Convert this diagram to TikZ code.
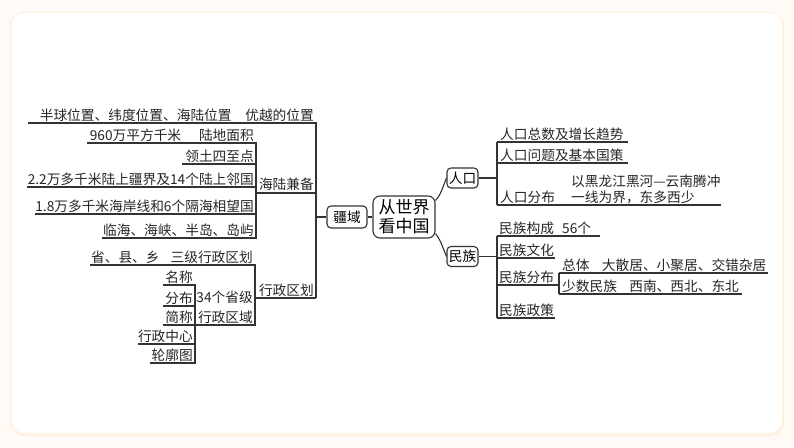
\documentclass[tikz,border=0pt]{standalone}
\usepackage{fontspec}
\setmainfont{Noto Sans CJK SC}
\begin{document}
\begin{tikzpicture}[x=1pt,y=-1pt,
  ln/.style={line width=1.1pt,draw=black!80},
  t/.style={anchor=base east,inner sep=0pt,font=\fontsize{13.7}{15}\selectfont,text=black!85},
  tl/.style={anchor=base west,inner sep=0pt,font=\fontsize{13.7}{15}\selectfont,text=black!85},
  bx/.style={draw=black!80,line width=1.1pt,rounded corners=4pt,fill=white,inner sep=1pt,font=\fontsize{13.7}{15}\selectfont}]
\useasboundingbox (0,0) rectangle (794,447);
\fill[orange!4] (0,0) rectangle (794,447);
\fill[orange!12,rounded corners=14pt] (10,12) rectangle (784,436);
\fill[white,rounded corners=12pt] (12,13) rectangle (782,433);
% left branch 疆域
\node[t] (a1) at (314,120) {半球位置、纬度位置、海陆位置\hspace{1em}优越的位置};
\draw[ln] (28,123) -- (316,123) -- (316,298);
\node[t] at (254,140) {960万平方千米\hspace{1.3em}陆地面积};
\node[t] at (254,161) {领土四至点};
\node[t] at (254,184) {2.2万多千米陆上疆界及14个陆上邻国};
\node[t] at (254,211) {1.8万多千米海岸线和6个隔海相望国};
\node[t] at (254,235) {临海、海峡、半岛、岛屿};
\node[t] at (314,189) {海陆兼备};
\draw[ln] (87,143) -- (256,143) -- (256,238) -- (102,238);
\draw[ln] (182,164) -- (256,164);
\draw[ln] (27,187) -- (256,187);
\draw[ln] (35,214) -- (256,214);
\draw[ln] (256,193) -- (316,193);
\node[t] at (253,262) {省、县、乡\hspace{0.8em}三级行政区划};
\node[t] at (314,295) {行政区划};
\draw[ln] (90,265) -- (255,265) -- (255,325) -- (163,325);
\draw[ln] (255,298) -- (316,298);
\node[t] at (253,302) {34个省级};
\node[t] at (253,322) {行政区域};
\node[t] at (193,282) {名称};
\node[t] at (193,303) {分布};
\node[t] at (193,322) {简称};
\node[t] at (193,341) {行政中心};
\node[t] at (193,360) {轮廓图};
\draw[ln] (163,285) -- (195,285) -- (195,363) -- (150,363);
\draw[ln] (163,306) -- (195,306);
\draw[ln] (138,344) -- (195,344);
% boxes
\node[bx,minimum width=40pt,minimum height=22pt] (jy) at (347,217) {疆域};
\node[bx,minimum width=62pt,minimum height=42pt,rounded corners=7pt,font=\fontsize{17}{19}\selectfont,align=center] (c) at (404,217) {从世界\\看中国};
\node[bx,minimum width=31pt,minimum height=20pt] (rk) at (462.5,178) {人口};
\node[bx,minimum width=31pt,minimum height=20pt] (mz) at (462.5,256.5) {民族};
\draw[ln] (316,217) -- (jy.west);
\draw[ln] (jy.east) -- (c.west);
\draw[ln] (c.north east) ++(0,5) .. controls (440,195) .. (rk.west);
\draw[ln] (c.south east) ++(0,-5) .. controls (440,240) .. (mz.west);
% right branch 人口
\draw[ln] (rk.east) -- (497,178);
\draw[ln] (497,142) -- (497,205);
\draw[ln] (497,142) -- (628,142);
\draw[ln] (497,163) -- (628,163);
\draw[ln] (497,205) -- (721,205);
\node[tl] at (500,139) {人口总数及增长趋势};
\node[tl] at (500,160) {人口问题及基本国策};
\node[tl] at (500,202) {人口分布};
\node[tl] at (571,186) {以黑龙江黑河—云南腾冲};
\node[tl] at (571,202) {一线为界，东多西少};
% 民族
\draw[ln] (mz.east) -- (497,256.5);
\draw[ln] (497,236) -- (497,318);
\draw[ln] (497,236) -- (600,236);
\draw[ln] (497,258) -- (555,258);
\draw[ln] (497,285) -- (559,285);
\draw[ln] (497,318) -- (555,318);
\draw[ln] (559,273) -- (559,294);
\draw[ln] (559,273) -- (768,273);
\draw[ln] (559,294) -- (742,294);
\node[tl] at (499,233) {民族构成\hspace{0.6em}56个};
\node[tl] at (499,255) {民族文化};
\node[tl] at (499,282) {民族分布};
\node[tl] at (499,315) {民族政策};
\node[tl] at (562,270) {总体\hspace{0.9em}大散居、小聚居、交错杂居};
\node[tl] at (562,291) {少数民族\hspace{0.9em}西南、西北、东北};
\end{tikzpicture}
\end{document}
